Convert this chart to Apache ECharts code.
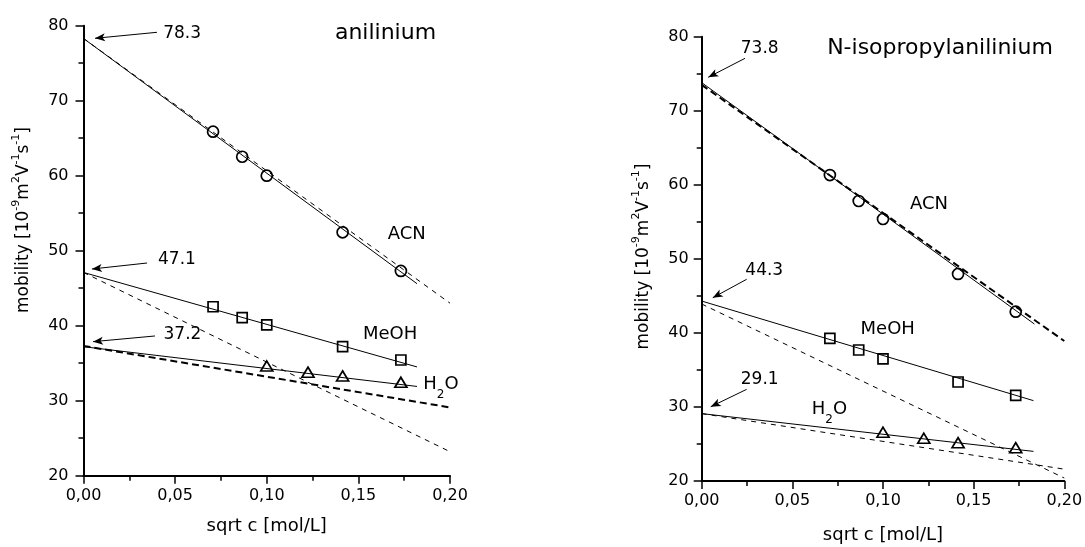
<!DOCTYPE html>
<html><head><meta charset="utf-8">
<script src="https://cdn.jsdelivr.net/npm/echarts@6/dist/echarts.min.js"></script>
<style>html,body{margin:0;padding:0;background:#fff}#c{width:1085px;height:547px}</style>
</head><body><div id="c"></div>
<script>
// ---------- data ----------
const xTickLabels = ['0,00', '0,05', '0,10', '0,15', '0,20'];
const yTickLabels = [20, 30, 40, 50, 60, 70, 80];
const xSqrtC = [0.0707, 0.0866, 0.1, 0.1414, 0.1732];      // ACN, MeOH points
const xSqrtCH2O = [0.1, 0.1225, 0.1414, 0.1732];            // H2O points

// anilinium (left)
const aniACN  = [65.87, 62.53, 60.0, 52.45, 47.3];
const aniMeOH = [42.53, 41.07, 40.1, 37.2, 35.43];
const aniH2O  = [34.63, 33.8, 33.3, 32.45];
const aniACNFit     = [[0, 78.3], [0.182, 45.6]];
const aniACNTheory  = [[0, 78.3], [0.2, 43.0]];
const aniMeOHFit    = [[0, 47.1], [0.182, 34.5]];
const aniMeOHTheory = [[0, 47.1], [0.2, 23.2]];
const aniH2OFit     = [[0, 37.2], [0.182, 31.9]];
const aniH2OTheory  = [[0, 37.3], [0.2, 29.1]];
const aniLimits = ['78.3', '47.1', '37.2'];

// N-isopropylanilinium (right)
const isoACN  = [61.32, 57.81, 55.38, 47.96, 42.86];
const isoMeOH = [39.27, 37.69, 36.48, 33.37, 31.57];
const isoH2O  = [26.58, 25.77, 25.17, 24.5];
const isoACNFit     = [[0, 73.8], [0.1835, 41.2]];
const isoACNTheory  = [[0, 73.5], [0.2, 38.9]];
const isoMeOHFit    = [[0, 44.3], [0.183, 30.85]];
const isoMeOHTheory = [[0, 43.9], [0.2, 20.4]];
const isoH2OFit     = [[0, 29.1], [0.183, 24.0]];
const isoH2OTheory  = [[0, 29.1], [0.2, 21.6]];
const isoLimits = ['73.8', '44.3', '29.1'];

// ---------- layout / style ----------
const FONT = '"DejaVu Sans", sans-serif';
const pts = (xs, ys) => xs.map((x, i) => [x, ys[i]]);

// annotation placement (data units of each panel)
const aniNotes = [
  { text: aniLimits[0], at: [0.0538, 78.97], from: [0.0401, 79.12], to: [0.0063, 78.32] },
  { text: aniLimits[1], at: [0.0510, 48.76], from: [0.0347, 48.36], to: [0.0046, 47.56] },
  { text: aniLimits[2], at: [0.0540, 38.76], from: [0.0390, 38.63], to: [0.0052, 37.87] }
];
const isoNotes = [
  { text: isoLimits[0], at: [0.0320, 78.33], from: [0.0239, 77.08], to: [0.0036, 74.52] },
  { text: isoLimits[1], at: [0.0345, 48.36], from: [0.0248, 47.24], to: [0.0061, 44.75] },
  { text: isoLimits[2], at: [0.0320, 33.64], from: [0.0248, 32.38], to: [0.0050, 30.03] }
];
const aniSolvLabels = [
  { text: 'ACN', at: [0.1764, 52.16] },
  { text: 'MeOH', at: [0.1673, 38.79] },
  { text: 'H2O', at: [0.1854, 32.12] }
];
const isoSolvLabels = [
  { text: 'ACN', at: [0.1254, 57.34] },
  { text: 'MeOH', at: [0.1026, 40.42] },
  { text: 'H2O', at: [0.0607, 29.66] }
];

const richSub = {
  m: { fontSize: 18, fontFamily: FONT, color: '#000', lineHeight: 20 },
  s: { fontSize: 12, fontFamily: FONT, color: '#000', lineHeight: 12, padding: [20, 0, 0, 0] }
};
const richSup = {
  m: { fontSize: 17, fontFamily: FONT, color: '#000', lineHeight: 20 },
  s: { fontSize: 11, fontFamily: FONT, color: '#000', lineHeight: 12, padding: [0, 0, 16, 0] }
};
const yNameText = '{m|mobility [10}{s|-9}{m|m}{s|2}{m|V}{s|-1}{m|s}{s|-1}{m|]}';

function xAxisCfg(gi, gap) {
  return {
    type: 'value', gridIndex: gi, min: 0, max: 0.2, interval: 0.05,
    axisLine: { show: true, onZero: false, lineStyle: { color: '#000', width: 2 } },
    axisTick: { show: true, inside: false, length: 8, lineStyle: { color: '#000', width: 1.5 } },
    minorTick: { show: true, splitNumber: 2, length: 5, lineStyle: { color: '#000', width: 1.5 } },
    splitLine: { show: false }, minorSplitLine: { show: false },
    axisLabel: {
      color: '#000', fontFamily: FONT, fontSize: 16, margin: 12,
      formatter: v => xTickLabels[Math.round(v / 0.05)]
    },
    name: 'sqrt c [mol/L]', nameLocation: 'middle', nameGap: gap,
    nameTextStyle: { color: '#000', fontFamily: FONT, fontSize: 18 }
  };
}
function yAxisCfg(gi, margin) {
  return {
    type: 'value', gridIndex: gi, min: 20, max: 80, interval: 10,
    axisLine: { show: true, onZero: false, lineStyle: { color: '#000', width: 2 } },
    axisTick: { show: true, inside: false, length: 8, lineStyle: { color: '#000', width: 1.5 } },
    minorTick: { show: true, splitNumber: 2, length: 5, lineStyle: { color: '#000', width: 1.5 } },
    splitLine: { show: false }, minorSplitLine: { show: false },
    axisLabel: {
      color: '#000', fontFamily: FONT, fontSize: 16, margin: margin,
      formatter: v => String(yTickLabels[Math.round((v - 20) / 10)])
    }
  };
}

function lineS(gi, data, kind) {
  const ls = kind === 'fit' ? { color: '#000', width: 1, type: 'solid' }
    : kind === 'thin' ? { color: '#000', width: 1, type: [5, 5] }
    : { color: '#000', width: 2, type: [7, 4] };
  return {
    type: 'line', xAxisIndex: gi, yAxisIndex: gi, data, showSymbol: false, symbol: 'none',
    lineStyle: ls, silent: true, z: 2
  };
}
function markS(gi, data, symbol, size) {
  return {
    type: 'scatter', xAxisIndex: gi, yAxisIndex: gi, data, symbol, symbolSize: size,
    itemStyle: { color: 'rgba(0,0,0,0)', borderColor: '#000', borderWidth: 1.7, opacity: 1 },
    silent: true, z: 3
  };
}
function textS(gi, notes, solv) {
  const data = notes.map(n => ({ value: n.at, name: n.text, label: { fontSize: 17 } }))
    .concat(solv.map(s => s.text === 'H2O'
      ? { value: s.at, name: s.text, label: { formatter: '{m|H}{s|2}{m|O}', rich: richSub, align: 'left' } }
      : { value: s.at, name: s.text, label: { fontSize: 18 } }));
  return {
    type: 'scatter', xAxisIndex: gi, yAxisIndex: gi, data, symbol: 'circle', symbolSize: 1,
    itemStyle: { color: 'rgba(0,0,0,0)', opacity: 1 }, silent: true, z: 5,
    label: { show: true, position: 'inside', color: '#000', opacity: 1, fontFamily: FONT, formatter: '{b}' },
    markLine: {
      silent: true, symbol: ['none', 'arrow'], symbolSize: [6, 10], animation: false,
      label: { show: false }, lineStyle: { color: '#000', width: 1, type: 'solid', opacity: 1 },
      emphasis: { disabled: true },
      data: notes.map(n => [{ coord: n.from }, { coord: n.to }])
    }
  };
}

const option = {
  animation: false,
  backgroundColor: '#fff',
  grid: [
    { left: 83.5, top: 25.7, width: 366.5, height: 450, containLabel: false, outerBoundsMode: 'none' },
    { left: 701.7, top: 36.7, width: 362.6, height: 444.3, containLabel: false, outerBoundsMode: 'none' }
  ],
  xAxis: [xAxisCfg(0, 42), xAxisCfg(1, 45)],
  yAxis: [yAxisCfg(0, 15), yAxisCfg(1, 13)],
  graphic: [
    { type: 'text', x: 385.5, y: 33.4, silent: true,
      style: { text: 'anilinium', fontFamily: FONT, fontSize: 22, fill: '#000', align: 'center', verticalAlign: 'middle' } },
    { type: 'text', x: 940, y: 48.4, silent: true,
      style: { text: 'N-isopropylanilinium', fontFamily: FONT, fontSize: 22, fill: '#000', align: 'center', verticalAlign: 'middle' } },
    { type: 'text', x: 24, y: 220, rotation: Math.PI / 2, silent: true,
      style: { text: yNameText, rich: richSup, align: 'center', verticalAlign: 'middle', fill: '#000' } },
    { type: 'text', x: 644, y: 256.5, rotation: Math.PI / 2, silent: true,
      style: { text: yNameText, rich: richSup, align: 'center', verticalAlign: 'middle', fill: '#000' } }
  ],
  series: [
    lineS(0, aniACNFit, 'fit'), lineS(0, aniACNTheory, 'thin'),
    lineS(0, aniMeOHFit, 'fit'), lineS(0, aniMeOHTheory, 'thin'),
    lineS(0, aniH2OFit, 'fit'), lineS(0, aniH2OTheory, 'thick'),
    markS(0, pts(xSqrtC, aniACN), 'circle', 11),
    markS(0, pts(xSqrtC, aniMeOH), 'rect', 10),
    markS(0, pts(xSqrtCH2O, aniH2O), 'triangle', [12, 10]),
    textS(0, aniNotes, aniSolvLabels),

    lineS(1, isoACNFit, 'fit'), lineS(1, isoACNTheory, 'thick'),
    lineS(1, isoMeOHFit, 'fit'), lineS(1, isoMeOHTheory, 'thin'),
    lineS(1, isoH2OFit, 'fit'), lineS(1, isoH2OTheory, 'thin'),
    markS(1, pts(xSqrtC, isoACN), 'circle', 11),
    markS(1, pts(xSqrtC, isoMeOH), 'rect', 10),
    markS(1, pts(xSqrtCH2O, isoH2O), 'triangle', [12, 10]),
    textS(1, isoNotes, isoSolvLabels)
  ]
};
const chart = echarts.init(document.getElementById('c'), null, { renderer: 'canvas' });
chart.setOption(option);
</script></body></html>
